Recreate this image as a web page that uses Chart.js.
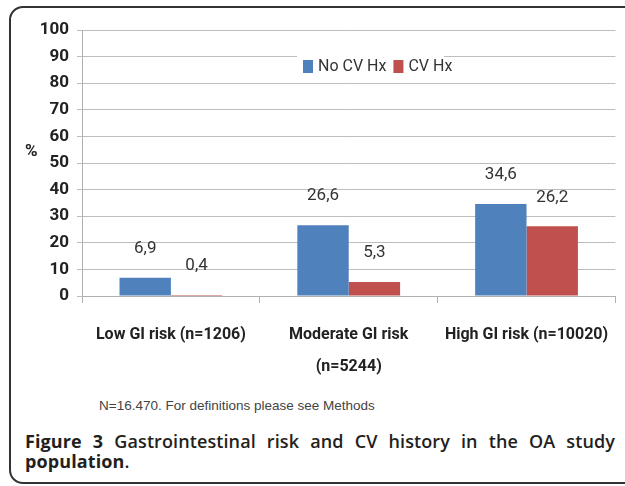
<!DOCTYPE html>
<html>
<head>
<meta charset="utf-8">
<script src="https://cdn.jsdelivr.net/npm/chart.js@4.4.1/dist/chart.umd.min.js"></script>
<style>
  html, body { margin: 0; padding: 0; background: #fff; overflow: hidden; }
  #page { position: relative; width: 625px; height: 486px; overflow: hidden; }
  #frame { position: absolute; left: 9px; top: 6px; width: 640px; height: 474px;
           border: 2px solid #333; border-radius: 14px; }
  #chartBox { position: absolute; left: 0; top: 0; width: 625px; height: 390px; }
  #pct { position: absolute; left: 25px; top: 140px; font: bold 17px Roboto, sans-serif; color: #222; }
  #note { position: absolute; left: 99px; top: 398px; font: 13.5px 'Liberation Sans', Arial, sans-serif; color: #444; white-space: nowrap; }
  #caption { position: absolute; left: 25px; top: 431px; width: 590px; font: 600 18px 'Open Sans', sans-serif;
             line-height: 20px; color: #231f20; text-align: justify; letter-spacing: 0.1px; }
  #caption b { font-weight: 700; }
</style>
</head>
<body>
<div id="page">
  <div id="frame"></div>
  <div id="chartBox"><canvas id="barChart" width="625" height="390"></canvas></div>
  <div id="pct">%</div>
  <div id="note">N=16.470. For definitions please see Methods</div>
  <div id="caption"><b>Figure 3</b> Gastrointestinal risk and CV history in the OA study <b>population</b>.</div>
</div>
<script>
const riskGroups = [["Low GI risk (n=1206)"], ["Moderate GI risk", "(n=5244)"], ["High GI risk (n=10020)"]];
const noCvHx = [6.9, 26.6, 34.6];
const cvHx = [0.4, 5.3, 26.2];
const yTicks = [0, 10, 20, 30, 40, 50, 60, 70, 80, 90, 100];

const chartFont = "Roboto, sans-serif";

// value labels above the bars, comma as decimal mark
const valueLabels = {
  id: 'valueLabels',
  afterDatasetsDraw(chart) {
    const ctx = chart.ctx;
    ctx.save();
    ctx.font = "17px " + chartFont;
    ctx.fillStyle = "#333";
    ctx.textAlign = "center";
    ctx.textBaseline = "middle";
    chart.data.datasets.forEach((ds, i) => {
      chart.getDatasetMeta(i).data.forEach((bar, j) => {
        ctx.fillText(String(ds.data[j]).replace('.', ','), bar.x, bar.y - 29);
      });
    });
    ctx.restore();
  }
};

// legend drawn inside the plot on a white box
const boxLegend = {
  id: 'boxLegend',
  afterDraw(chart) {
    const ctx = chart.ctx;
    ctx.save();
    ctx.fillStyle = "#fff";
    ctx.fillRect(297, 48, 147, 32);
    ctx.font = "16px " + chartFont;
    ctx.textBaseline = "middle";
    let x = 303;
    chart.data.datasets.forEach(ds => {
      ctx.fillStyle = ds.backgroundColor;
      ctx.fillRect(x, 60, 10, 13);
      ctx.fillStyle = "#333";
      ctx.fillText(ds.label, x + 15, 67);
      x += 15 + ctx.measureText(ds.label).width + 7;
    });
    ctx.restore();
  }
};

new Chart("barChart", {
  type: "bar",
  data: {
    labels: riskGroups,
    datasets: [{
      label: "No CV Hx",
      data: noCvHx,
      backgroundColor: "#4f81bd"
    }, {
      label: "CV Hx",
      data: cvHx,
      backgroundColor: "#c0504d"
    }]
  },
  options: {
    responsive: false,
    animation: false,
    layout: { padding: { top: 30, right: 5, left: 0, bottom: 0 } },
    categoryPercentage: 0.578,
    barPercentage: 1.0,
    plugins: {
      legend: { display: false },
      tooltip: { enabled: false }
    },
    scales: {
      x: {
        grid: {
          offset: true,
          color: (c) => c.index === 3 ? "#c8c8c8" : "rgba(0,0,0,0)",
          lineWidth: (c) => c.index === 3 ? 2 : 1,
          tickColor: "#b0b0b0",
          tickLength: 7
        },
        border: { color: "#b0b0b0" },
        ticks: {
          padding: 16,
          color: "#222",
          maxRotation: 0,
          autoSkip: false,
          font: { family: chartFont, size: 16, weight: "bold", lineHeight: 2 }
        },
        afterFit(scale) { scale.height = 94; }
      },
      y: {
        min: 0,
        max: 100,
        afterBuildTicks(scale) { scale.ticks = yTicks.map(v => ({ value: v })); },
        grid: { color: "#bdbdbd", tickLength: 5 },
        border: { color: "#b0b0b0" },
        ticks: {
          padding: 8,
          color: "#222",
          font: { family: chartFont, size: 17, weight: "bold" }
        },
        afterFit(scale) { scale.width = 82; }
      }
    }
  },
  plugins: [valueLabels, boxLegend]
});
</script>
</body>
</html>
